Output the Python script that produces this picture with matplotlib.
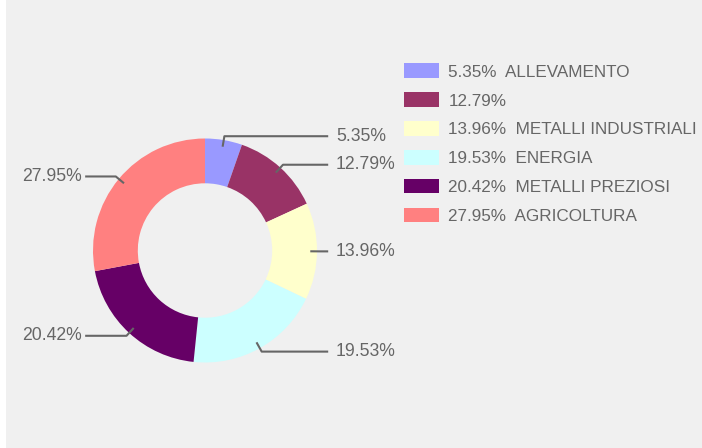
import numpy as np
import matplotlib
matplotlib.use("Agg")
import matplotlib.pyplot as plt
from matplotlib.patches import Rectangle

# Data
names = ["ALLEVAMENTO", "", "METALLI INDUSTRIALI", "ENERGIA", "METALLI PREZIOSI", "AGRICOLTURA"]
values = [5.35, 12.79, 13.96, 19.53, 20.42, 27.95]
colors = ["#9999ff", "#993366", "#ffffcc", "#ccffff", "#660066", "#ff8080"]

plt.rcParams['font.family'] = ['Liberation Sans', 'DejaVu Sans']
text_col = "#666666"

fig = plt.figure(figsize=(7.02, 4.48), dpi=100)
fig.patch.set_facecolor("white")
fig.patches.append(Rectangle((6 / 702, 0), 1, 1, transform=fig.transFigure,
                             facecolor="#f0f0f0", edgecolor="none", zorder=-10))

ax = fig.add_axes([0, 0, 1, 1])
ax.set_facecolor("none")

wedges, _ = ax.pie(values, colors=colors, startangle=90, counterclock=False,
                   radius=1.0, wedgeprops=dict(width=0.4, linewidth=0))

# leader lines and value labels
total = sum(values)
cum = 0
for v in values:
    mid = np.deg2rad((cum + v / 2) / total * 360)
    cum += v
    sx, sy = np.sin(mid), np.cos(mid)
    x0, y0 = 0.94 * sx, 0.94 * sy
    x1, y1 = 1.035 * sx, 1.035 * sy
    if sx >= 0:
        x2 = 1.10
        ax.text(1.17, y1, f"{v:.2f}%", ha="left", va="center", fontsize=12.7, color=text_col)
    else:
        x2 = -1.07
        ax.text(-1.10, y1, f"{v:.2f}%", ha="right", va="center", fontsize=12.7, color=text_col)
    ax.plot([x0, x1, x2], [y0, y1, y1], color=text_col, lw=1.5, solid_capstyle="butt")

# map data to pixels: centre at (205, 250.5) px, 112 px per unit
s = 112.0
cx, cy = 205, 250.5
ax.set_xlim(-cx / s, (702 - cx) / s)
ax.set_ylim(-(448 - cy) / s, cy / s)
ax.set_aspect("auto")
ax.axis("off")

labels = [f"{v:.2f}%  {n}" if n else f"{v:.2f}%" for v, n in zip(values, names)]
ax.legend(wedges, labels, loc="upper left", bbox_to_anchor=(404 / 702, 1 - 63.5 / 448),
          bbox_transform=fig.transFigure, frameon=False, fontsize=12.3,
          labelcolor=text_col, handlelength=2.05, handleheight=0.94,
          handletextpad=0.55, labelspacing=0.74, borderpad=0, borderaxespad=0)

fig.savefig("out.png", dpi=100, facecolor=fig.get_facecolor())
